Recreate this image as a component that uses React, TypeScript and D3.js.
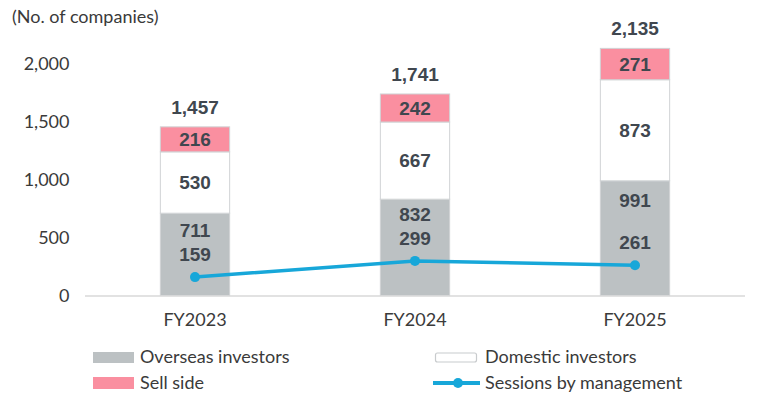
import React from "react";
import * as d3 from "d3";

const categories = ["FY2023", "FY2024", "FY2025"];
const overseas = [711, 832, 991];
const domestic = [530, 667, 873];
const sellSide = [216, 242, 271];
const totals = [1457, 1741, 2135];
const sessions = [159, 299, 261];
const yTicks = [0, 500, 1000, 1500, 2000];

const C_GRAY = "#bcc1c3";
const C_PINK = "#fa8fa0";
const C_LINE = "#17a7d9";
const C_TEXT = "#40474f";
const C_AXIS = "#3a3a3a";
const FONT = "Lato, 'Noto Sans', sans-serif";
const VFONT = "'Liberation Sans', Arial, sans-serif";

export default function App() {
  const W = 760, H = 400;
  const x = d3.scaleBand<string>().domain(categories).range([85, 745]).padding(0);
  const y = d3.scaleLinear().domain([0, 2000]).range([295.5, 64]);
  const bw = x.bandwidth() * 0.315;
  const cx = (c: string) => (x(c) as number) + x.bandwidth() / 2;
  const fmt = d3.format(",");
  const line = d3.line<number>().x((_, i) => cx(categories[i])).y((d) => y(d));

  return (
    <svg width={W} height={H} style={{ position: "absolute", left: 0, top: 0, background: "#fff" }}>
      <text x={12} y={17} dy="0.35em" fontFamily={FONT} fontSize={18} fill={C_AXIS}>(No. of companies)</text>
      {yTicks.map((t) => (
        <text key={t} x={69.5} y={y(t)} dy="0.35em" textAnchor="end" fontFamily={FONT} fontSize={18} fill={C_AXIS}>
          {fmt(t)}
        </text>
      ))}
      {categories.map((c, i) => {
        const x0 = cx(c) - bw / 2;
        const segs = [
          { v0: 0, v1: overseas[i], fill: C_GRAY },
          { v0: overseas[i], v1: overseas[i] + domestic[i], fill: "#fff" },
          { v0: overseas[i] + domestic[i], v1: overseas[i] + domestic[i] + sellSide[i], fill: C_PINK },
        ];
        return (
          <g key={c}>
            {segs.map((s, j) => (
              <rect key={j} x={x0} y={y(s.v1)} width={bw} height={y(s.v0) - y(s.v1)} fill={s.fill}
                stroke="#d0d3d5" strokeWidth={1} />
            ))}
          </g>
        );
      })}
      <line x1={85} x2={745} y1={296} y2={296} stroke="#d9d9d9" strokeWidth={1.5} />
      <path d={line(sessions) || ""} fill="none" stroke={C_LINE} strokeWidth={3.5} />
      {sessions.map((v, i) => (
        <circle key={i} cx={cx(categories[i])} cy={y(v)} r={5} fill={C_LINE} />
      ))}
      {categories.map((c, i) => {
        const px = cx(c);
        const topO = y(overseas[i]);
        const midD = (y(overseas[i]) + y(overseas[i] + domestic[i])) / 2;
        const midS = (y(overseas[i] + domestic[i]) + y(totals[i])) / 2;
        const lineLbl = y(sessions[i]) - 23;
        const oLbl = Math.min(topO + 20, lineLbl - 24);
        const style = { fontFamily: VFONT, fontSize: 19, fontWeight: 700, fill: C_TEXT } as const;
        return (
          <g key={c} textAnchor="middle">
            <text x={px} y={y(totals[i]) - 20} dy="0.35em" {...style}>{fmt(totals[i])}</text>
            <text x={px} y={midS} dy="0.35em" {...style}>{fmt(sellSide[i])}</text>
            <text x={px} y={midD} dy="0.35em" {...style}>{fmt(domestic[i])}</text>
            <text x={px} y={oLbl} dy="0.35em" {...style}>{fmt(overseas[i])}</text>
            <text x={px} y={lineLbl} dy="0.35em" {...style}>{fmt(sessions[i])}</text>
            <text x={px} y={320} dy="0.35em" fontFamily={FONT} fontSize={18} fill={C_AXIS}>{c}</text>
          </g>
        );
      })}
      <g fontFamily={FONT} fontSize={18} fill={C_AXIS}>
        <rect x={93} y={352} width={41} height={11} fill={C_GRAY} />
        <text x={140} y={357} dy="0.35em">Overseas investors</text>
        <rect x={93} y={377} width={41} height={12} fill={C_PINK} />
        <text x={140} y={383} dy="0.35em">Sell side</text>
        <rect x={435.5} y={353} width={41} height={9} rx={2} fill="#fff" stroke="#c8cbcd" strokeWidth={1.2} />
        <text x={485} y={357} dy="0.35em">Domestic investors</text>
        <line x1={433} x2={480} y1={383} y2={383} stroke={C_LINE} strokeWidth={4} />
        <circle cx={458} cy={383} r={5} fill={C_LINE} />
        <text x={485} y={383} dy="0.35em">Sessions by management</text>
      </g>
    </svg>
  );
}
